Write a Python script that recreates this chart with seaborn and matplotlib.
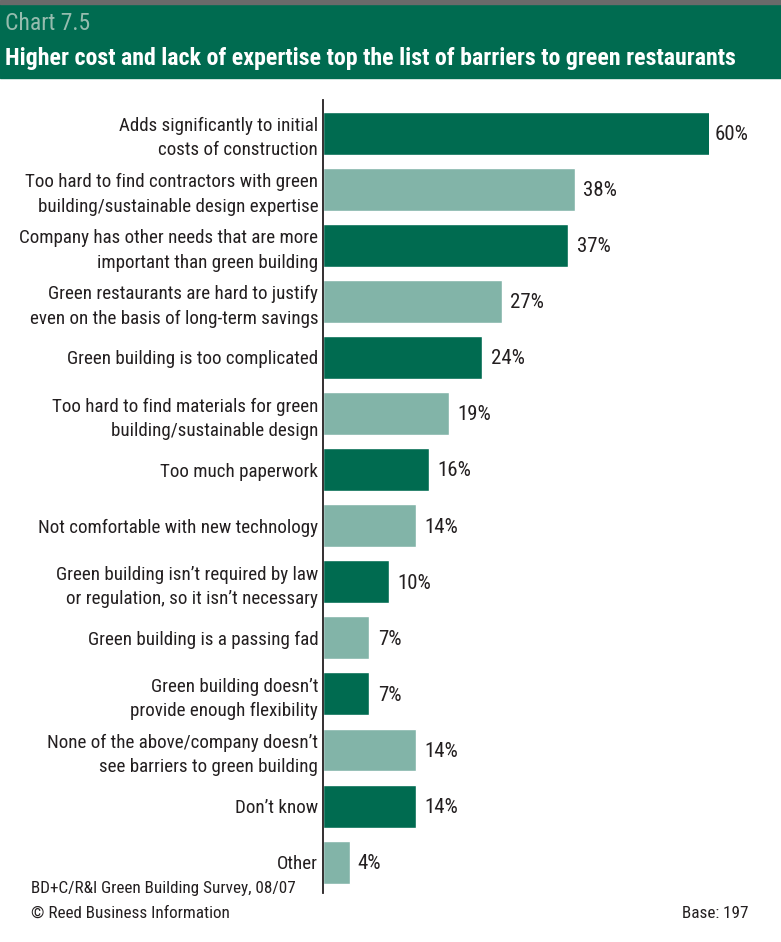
import matplotlib
matplotlib.use("Agg")
import matplotlib.pyplot as plt
import seaborn as sns
import pandas as pd
from matplotlib.patches import Rectangle

barriers = [
    "Adds significantly to initial\ncosts of construction",
    "Too hard to find contractors with green\nbuilding/sustainable design expertise",
    "Company has other needs that are more\nimportant than green building",
    "Green restaurants are hard to justify\neven on the basis of long-term savings",
    "Green building is too complicated",
    "Too hard to find materials for green\nbuilding/sustainable design",
    "Too much paperwork",
    "Not comfortable with new technology",
    "Green building isn\u2019t required by law\nor regulation, so it isn\u2019t necessary",
    "Green building is a passing fad",
    "Green building doesn\u2019t\nprovide enough flexibility",
    "None of the above/company doesn\u2019t\nsee barriers to green building",
    "Don\u2019t know",
    "Other",
]
percent = [60, 38, 37, 27, 24, 19, 16, 14, 10, 7, 7, 14, 14, 4]

dark = "#006b50"
light = "#82b4a8"
ink = "#231f20"
colors = [dark if i % 2 == 0 else light for i in range(len(barriers))]

df = pd.DataFrame({"barrier": barriers, "percent": percent})

sns.set_style("white")
plt.rcParams["font.family"] = ["Roboto Condensed", "Archivo Narrow", "DejaVu Sans"]

fig = plt.figure(figsize=(7.81, 9.42), dpi=100)
# the top bar is cut short at the right edge of the plot, as in the original
ax = fig.add_axes([323 / 781, 1 - 893 / 942, 386 / 781, 793 / 942])

sns.barplot(data=df, x="percent", y="barrier", hue="barrier", palette=colors,
            legend=False, width=0.766, ax=ax, saturation=1)

xmax = 58.2
ax.set_xlim(0, xmax)
ax.set_ylim(13.55, -0.59)

for i, v in enumerate(percent):
    ax.annotate(f"{v}%", (min(v, xmax), i), xytext=(4 if v > xmax else 6, -1),
                textcoords="offset points", va="center", ha="left",
                fontsize=15, color=ink, annotation_clip=False)

ax.set_xlabel("")
ax.set_ylabel("")
ax.set_xticks([])
ax.tick_params(axis="y", length=0, pad=3.5, labelsize=13.7, labelcolor=ink)
for lab in ax.get_yticklabels():
    lab.set_linespacing(1.45)
for s in ["top", "right", "bottom"]:
    ax.spines[s].set_visible(False)
ax.spines["left"].set_color(ink)
ax.spines["left"].set_linewidth(1.3)

# header banner
fig.patches.append(Rectangle((0, 1 - 78 / 942), 1, 74 / 942, transform=fig.transFigure,
                             color=dark, zorder=0))
fig.patches.append(Rectangle((0, 1 - 4 / 942), 1, 4 / 942, transform=fig.transFigure,
                             color="#6a6a6a", zorder=0))
fig.text(5 / 781, 1 - 24 / 942, "Chart 7.5", fontsize=17, color="#96bcae", va="center")
fig.text(5 / 781, 1 - 58 / 942,
         "Higher cost and lack of expertise top the list of barriers to green restaurants",
         fontsize=17.2, color="white", fontweight="bold", va="center")

fig.text(31 / 781, 1 - 888 / 942, "BD+C/R&I Green Building Survey, 08/07",
         fontsize=12.3, color=ink, va="center")
fig.text(31 / 781, 1 - 913 / 942, "\u00a9 Reed Business Information",
         fontsize=12.3, color=ink, va="center")
fig.text(748 / 781, 1 - 913 / 942, "Base: 197", fontsize=12.3, color=ink,
         va="center", ha="right")

fig.savefig("out.png", dpi=100)
